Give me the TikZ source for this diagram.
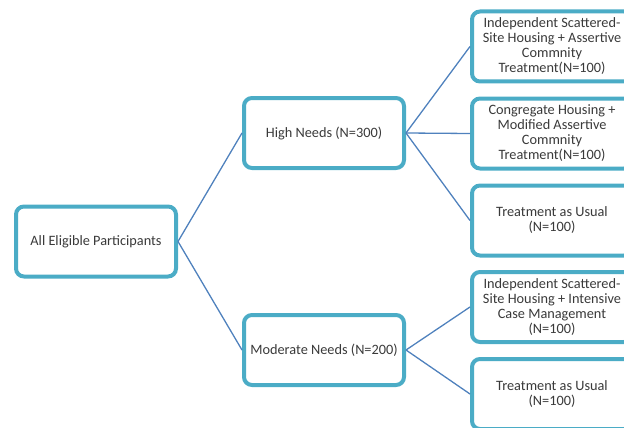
\documentclass[tikz,border=0pt]{standalone}
\usepackage{fontspec}
\setmainfont{Carlito}
\definecolor{boxline}{HTML}{4BACC6}
\definecolor{conn}{HTML}{4F81BD}
\definecolor{txt}{HTML}{3A3A3A}
\begin{document}
\begin{tikzpicture}[x=1pt,y=-1pt,
  box/.style={draw=boxline, line width=4pt, rounded corners=8pt, fill=white,
    minimum width=160pt, minimum height=70pt, align=center, text=txt,
    font=\fontsize{14.3}{15}\selectfont, inner sep=1pt},
  link/.style={draw=conn, line width=1.3pt}]
\path[use as bounding box] (0,0) rectangle (624,428);
\clip (0,0) rectangle (624,428);
\node[box] (root) at (96,241.5) {All Eligible Participants};
\node[box] (high) at (324,133) {High Needs (N=300)};
\node[box] (mod) at (324,350) {Moderate Needs (N=200)};
\node[box] (r1) at (552,46.5) {Independent Scattered-\\Site Housing + Assertive\\Commnity\\Treatment(N=100)};
\node[box] (r2) at (552,133.5) {Congregate Housing +\\Modified Assertive\\Commnity\\Treatment(N=100)};
\node[box] (r3) at (552,220.5) {Treatment as Usual\\(N=100)};
\node[box] (r4) at (552,307) {Independent Scattered-\\Site Housing + Intensive\\Case Management\\(N=100)};
\node[box] (r5) at (552,394) {Treatment as Usual\\(N=100)};
\draw[link] (root.east) -- (high.west);
\draw[link] (root.east) -- (mod.west);
\draw[link] (high.east) -- (r1.west);
\draw[link] (high.east) -- (r2.west);
\draw[link] (high.east) -- (r3.west);
\draw[link] (mod.east) -- (r4.west);
\draw[link] (mod.east) -- (r5.west);
\end{tikzpicture}
\end{document}
